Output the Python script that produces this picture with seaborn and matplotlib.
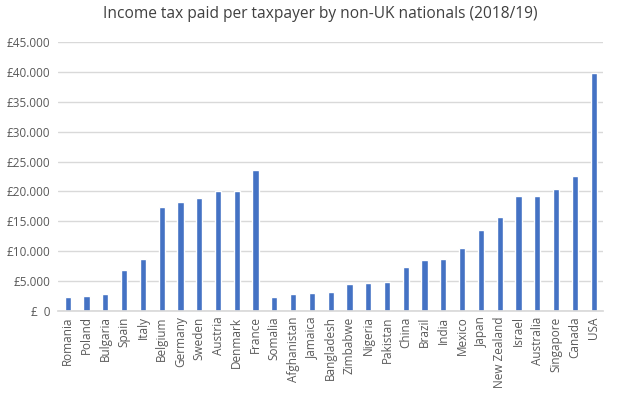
import matplotlib
matplotlib.use("Agg")
import matplotlib.pyplot as plt
import seaborn as sns
import pandas as pd
from matplotlib.ticker import FuncFormatter, MultipleLocator

# DATA

countries = ["Romania", "Poland", "Bulgaria", "Spain", "Italy", "Belgium", "Germany",
             "Sweden", "Austria", "Denmark", "France", "Somalia", "Afghanistan",
             "Jamaica", "Bangladesh", "Zimbabwe", "Nigeria", "Pakistan", "China",
             "Brazil", "India", "Mexico", "Japan", "New Zealand", "Israel",
             "Australia", "Singapore", "Canada", "USA"]
tax_paid = [2400, 2550, 2900, 6900, 8750, 17450, 18300, 18950, 20150, 20150, 23650,
            2400, 2900, 3050, 3150, 4500, 4700, 4850, 7350, 8550, 8700, 10550,
            13550, 15750, 19250, 19250, 20450, 22600, 39900]

df = pd.DataFrame({"Country": countries, "Tax": tax_paid})

sns.set_theme(style="white")
plt.rcParams['font.family'] = ['Open Sans', 'DejaVu Sans']

fig = plt.figure(figsize=(6.21, 3.97), dpi=100)
ax = fig.add_axes([0.094, 0.217, 0.877, 0.677])

sns.barplot(data=df, x="Country", y="Tax", color="#4472C4", saturation=1,
            width=0.33, ax=ax)

ax.set_ylim(0, 45000)
ax.set_xlim(-0.5, len(countries) - 0.5)
ax.yaxis.set_major_locator(MultipleLocator(5000))


def pounds(v, pos):
    if v == 0:
        return "£  0"
    return "£" + f"{int(v):,}".replace(",", ".")


ax.yaxis.set_major_formatter(FuncFormatter(pounds))
ax.grid(axis="y", color="#D9D9D9", linewidth=1)
ax.set_axisbelow(True)
for s in ["top", "right", "left"]:
    ax.spines[s].set_visible(False)
ax.spines["bottom"].set_color("#D9D9D9")

ax.tick_params(axis="x", labelrotation=90, labelsize=8.5, colors="#595959", length=0, pad=4)
ax.tick_params(axis="y", labelsize=8.5, colors="#595959", length=0, pad=6)
ax.set_xlabel("")
ax.set_ylabel("")

fig.suptitle("Income tax paid per taxpayer by non-UK nationals (2018/19)",
             x=0.515, y=0.985, fontsize=11.2, color="#404040")

fig.savefig("out.png", dpi=100)
